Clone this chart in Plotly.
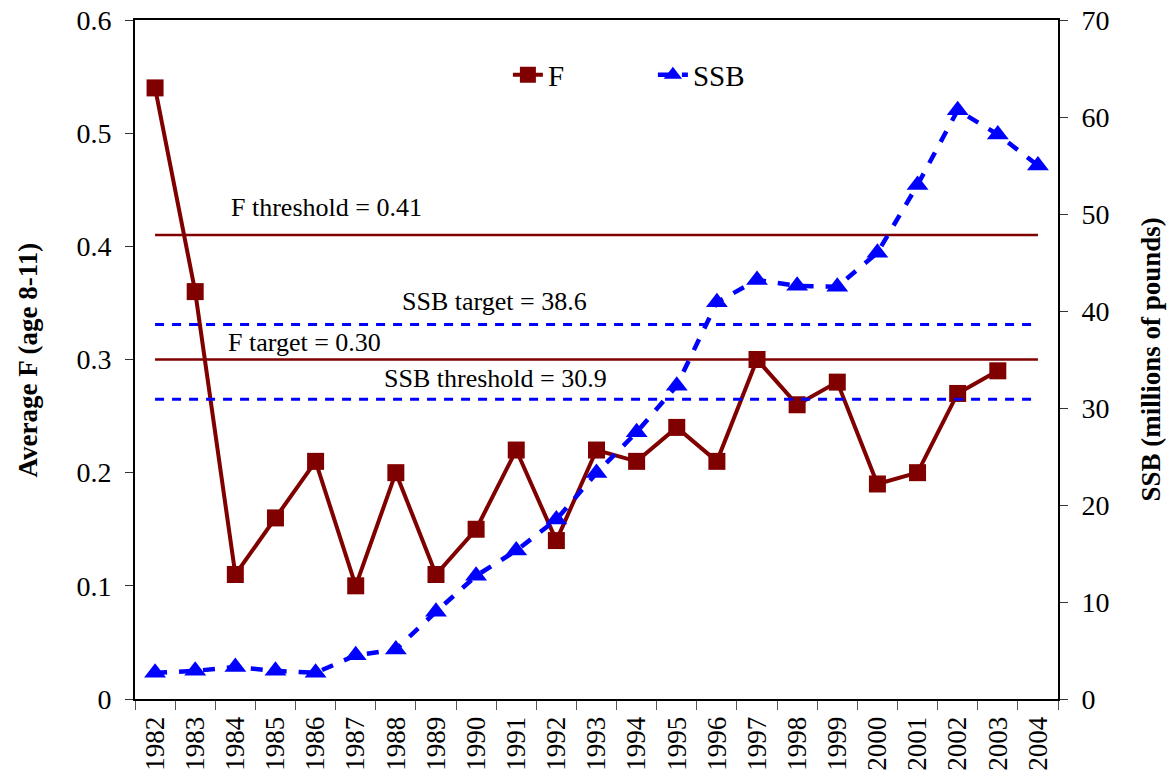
import plotly.graph_objects as go

years = [str(y) for y in range(1982, 2005)]
f_years = years[:22]
f_values = [0.54, 0.36, 0.11, 0.16, 0.21, 0.10, 0.20, 0.11, 0.15, 0.22, 0.14,
            0.22, 0.21, 0.24, 0.21, 0.30, 0.26, 0.28, 0.19, 0.20, 0.27, 0.29]
ssb_values = [2.7, 2.9, 3.3, 2.9, 2.7, 4.5, 5.1, 9.0, 12.7, 15.3, 18.5,
              23.3, 27.5, 32.3, 40.9, 43.2, 42.6, 42.5, 46.0, 53.0, 60.7, 58.2, 55.0]

f_threshold = 0.41
f_target = 0.30
ssb_target = 38.6
ssb_threshold = 30.9

RED = "#800000"
BLUE = "#0000FF"
FONT = "Liberation Serif"

fig = go.Figure()

ends = [years[0], years[-1]]
fig.add_trace(go.Scatter(x=ends, y=[f_threshold] * 2, mode="lines",
                         line=dict(color=RED, width=2.5), showlegend=False, hoverinfo="skip"))
fig.add_trace(go.Scatter(x=ends, y=[f_target] * 2, mode="lines",
                         line=dict(color=RED, width=2.5), showlegend=False, hoverinfo="skip"))
fig.add_trace(go.Scatter(x=ends, y=[ssb_target] * 2, mode="lines", yaxis="y2",
                         line=dict(color=BLUE, width=3, dash="9px,8px"), showlegend=False, hoverinfo="skip"))
fig.add_trace(go.Scatter(x=ends, y=[ssb_threshold] * 2, mode="lines", yaxis="y2",
                         line=dict(color=BLUE, width=3, dash="9px,8px"), showlegend=False, hoverinfo="skip"))

fig.add_trace(go.Scatter(x=f_years, y=f_values, mode="lines+markers", name="F",
                         line=dict(color=RED, width=4),
                         marker=dict(symbol="square", size=17, color=RED)))
fig.add_trace(go.Scatter(x=years, y=ssb_values, mode="lines+markers", name="SSB", yaxis="y2",
                         line=dict(color=BLUE, width=4.5, dash="12px,12px"),
                         marker=dict(symbol="triangle-up", size=19, color=BLUE)))

ann_font = dict(family=FONT, size=26, color="black")
fig.add_annotation(x=0.208, y=f_threshold, xref="paper", yref="y", text="F threshold = 0.41",
                   showarrow=False, font=ann_font, yshift=28, xanchor="center", yanchor="middle")
fig.add_annotation(x=0.389, y=ssb_target, xref="paper", yref="y2", text="SSB target = 38.6",
                   showarrow=False, font=ann_font, yshift=23, xanchor="center", yanchor="middle")
fig.add_annotation(x=0.184, y=f_target, xref="paper", yref="y", text="F target = 0.30",
                   showarrow=False, font=ann_font, yshift=17, xanchor="center", yanchor="middle")
fig.add_annotation(x=0.391, y=ssb_threshold, xref="paper", yref="y2", text="SSB threshold = 30.9",
                   showarrow=False, font=ann_font, yshift=21, xanchor="center", yanchor="middle")

title_font = dict(family=FONT, size=27, color="black")
fig.add_annotation(x=-0.116, y=0.5, xref="paper", yref="paper", text="<b>Average F (age 8-11)</b>",
                   textangle=-90, showarrow=False, font=title_font, xanchor="center", yanchor="middle")
fig.add_annotation(x=1.0997, y=0.5, xref="paper", yref="paper", text="<b>SSB (millions of pounds)</b>",
                   textangle=-90, showarrow=False, font=title_font, xanchor="center", yanchor="middle")

fig.update_layout(
    width=1172, height=782,
    margin=dict(l=135, r=114, t=20, b=83),
    paper_bgcolor="white", plot_bgcolor="white",
    font=dict(family=FONT, size=27, color="black"),
    showlegend=True,
    legend=dict(orientation="h", x=0.404, xanchor="left", y=0.919, yanchor="middle",
                font=dict(family=FONT, size=29), bgcolor="rgba(0,0,0,0)",
                entrywidth=100, entrywidthmode="pixels"),
    xaxis=dict(type="category", categoryorder="array", categoryarray=years,
               tickson="boundaries", ticks="outside", ticklen=9, tickcolor="#555",
               tickangle=-90, tickfont=dict(family=FONT, size=27), ticklabelstandoff=5,
               showline=True, linecolor="black", linewidth=2, mirror=True,
               showgrid=False, zeroline=False, range=[-0.5, 22.5], automargin=False),
    yaxis=dict(range=[0, 0.6], dtick=0.1, ticks="outside", ticklen=8, tickcolor="#333",
               showline=True, linecolor="black", linewidth=2, showgrid=False, zeroline=False,
               tickfont=dict(family=FONT, size=28), ticklabelstandoff=8, automargin=False),
    yaxis2=dict(range=[0, 70], dtick=10, overlaying="y", side="right", ticks="outside",
                ticklen=8, tickcolor="#333", showline=True, linecolor="black", linewidth=2,
                showgrid=False, zeroline=False, tickfont=dict(family=FONT, size=28),
                ticklabelstandoff=8, automargin=False),
)

fig.write_html("out.html", config={"displayModeBar": False},
               post_script="document.body.style.margin='0';document.body.style.overflow='hidden';")
